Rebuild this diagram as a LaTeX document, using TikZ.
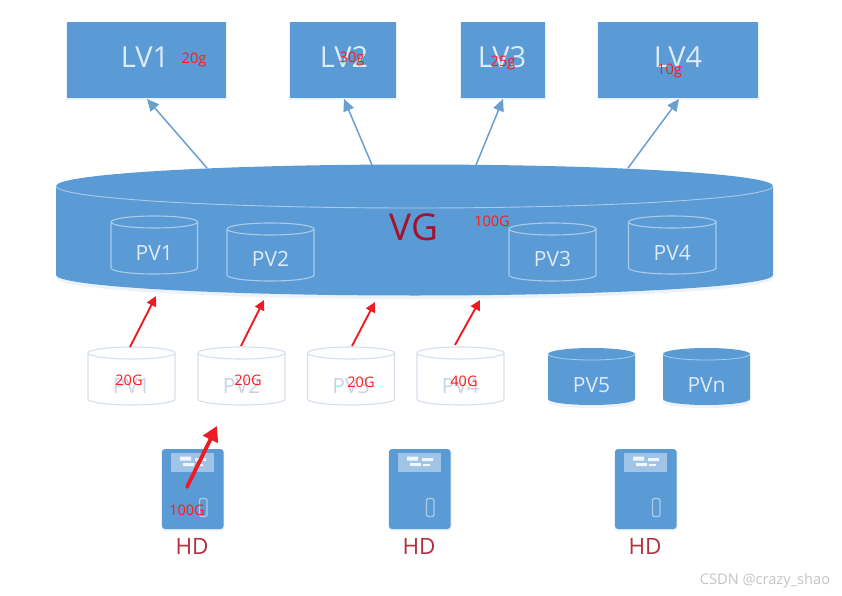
\documentclass[tikz,border=0pt]{standalone}
\usepackage{fontspec}
\setmainfont{Open Sans}
\definecolor{lvm}{HTML}{5B9BD5}
\definecolor{lvmedge}{HTML}{6A9FCF}
\definecolor{rimc}{HTML}{A9CBE8}
\definecolor{softc}{HTML}{DCEBF7}
\definecolor{ghost}{HTML}{D6DFEC}
\definecolor{ghosttxt}{HTML}{C8D3E4}
\definecolor{hdred}{HTML}{B0323E}
\definecolor{vgred}{HTML}{A3132B}
\definecolor{redmark}{HTML}{ED1C24}
\definecolor{markc}{HTML}{FF1A1A}
\definecolor{wm}{HTML}{C4C4C4}
\usetikzlibrary{arrows.meta}
\tikzset{
  x=1pt,y=-1pt,
  lvbox/.style={fill=lvm,inner sep=0pt,font=\fontsize{29}{29}\selectfont,text=softc},
  pvlabel/.style={inner sep=0pt,font=\fontsize{21}{21}\selectfont},
  redlabel/.style={inner sep=0pt,text=markc,font=\fontsize{14.5}{14.5}\selectfont},
  hdlabel/.style={inner sep=0pt,text=hdred,font=\fontsize{22.5}{22.5}\selectfont},
  bluearrow/.style={draw=lvmedge,line width=1.5pt,-{Triangle[length=12pt,width=11pt]}},
  redarrow/.style={draw=redmark,line width=1.9pt,-{Triangle[length=10pt,width=10pt]}},
  bigredarrow/.style={draw=redmark,line width=3.8pt,line cap=round,-{Triangle[length=15pt,width=16pt]}},
  softshadow/.style={fill=lvm,opacity=0.12},
}
% #1 name, #2 left, #3 right, #4 top, #5 bottom, #6 text, #7 line colour, #8 text colour, #9 text y
\newcommand{\outlinecyl}[9]{%
  \pgfmathsetmacro{\cx}{(#2+#3)/2}
  \pgfmathsetmacro{\rx}{(#3-#2)/2}
  \draw[draw=#7,line width=1.1pt] (#2,#4+6) arc[start angle=180,end angle=-180,x radius=\rx,y radius=-6]
     (#2,#4+6) -- (#2,#5-6) arc[start angle=180,end angle=360,x radius=\rx,y radius=-6] -- (#3,#4+6);
  \node[pvlabel,text=#8] (#1) at (\cx,#9) {#6};
}
\newcommand{\solidcyl}[6]{%
  \pgfmathsetmacro{\cx}{(#2+#3)/2}
  \pgfmathsetmacro{\rx}{(#3-#2)/2}
  \fill[softshadow] (#2,#4+6) -- (#2,#5-3) arc[start angle=180,end angle=360,x radius=\rx,y radius=-6] -- (#3,#4+6) -- cycle;
  \fill[lvm] (#2,#4+6) arc[start angle=180,end angle=0,x radius=\rx,y radius=-6] -- (#3,#5-6) arc[start angle=360,end angle=180,x radius=\rx,y radius=-6] -- cycle;
  \draw[draw=rimc,line width=0.8pt] (#2,#4+6) arc[start angle=180,end angle=360,x radius=\rx,y radius=-6];
  \node[pvlabel,text=softc] (#1) at (\cx,#6) {#1};
}
% #1 name, #2 left
\newcommand{\hdunit}[2]{%
  \fill[softshadow,rounded corners=3pt] (#2-1,450) rectangle (#2+62.5,531);
  \fill[lvm,rounded corners=3pt] (#2,449) rectangle (#2+61.5,529);
  \fill[white,opacity=0.42] (#2+9,453) rectangle (#2+52,472);
  \fill[white,opacity=0.85] (#2+18,456.5) rectangle (#2+29,460.5) (#2+21,463) rectangle (#2+32,466) (#2+33,458) rectangle (#2+44,461) (#2+34,464) rectangle (#2+41,466);
  \draw[draw=rimc,line width=1.2pt,rounded corners=1.5pt] (#2+37.5,498.5) rectangle (#2+45,516.5);
  \node[hdlabel] (#1) at (#2+30,546) {HD};
}
\begin{document}
\begin{tikzpicture}
\useasboundingbox (0,0) rectangle (842,596);
\fill[white] (0,0) rectangle (842,596);

% LV boxes
\foreach \a/\b in {66.5/225.5,290/396,461/545,598/758}{
  \fill[softshadow] (\a-1,23) rectangle (\b+1,100.5);
}
\node[lvbox,minimum width=159pt,minimum height=76.5pt] (lva) at (146,60.25) {};
\node[lvbox,minimum width=106pt,minimum height=76.5pt] (lvb) at (343,60.25) {};
\node[lvbox,minimum width=84pt,minimum height=76.5pt] (lvc) at (503,60.25) {};
\node[lvbox,minimum width=160pt,minimum height=76.5pt] (lvd) at (678,60.25) {};
\node[lvbox] (lvat) at (145,57) {LV1};
\node[lvbox] (lvbt) at (344,57) {LV2};
\node[lvbox] (lvct) at (502,57) {LV3};
\node[lvbox] (lvdt) at (678,57) {LV4};

% VG drum
\fill[softshadow] (56,190) -- (56,278) arc[start angle=180,end angle=360,x radius=358.5,y radius=-21] -- (773,190) -- cycle;
\fill[lvm] (56,186) arc[start angle=180,end angle=0,x radius=358.5,y radius=-21.5]
   -- (773,275) arc[start angle=360,end angle=180,x radius=358.5,y radius=-20.5] -- cycle;
\draw[draw=rimc,line width=0.9pt] (56,186) arc[start angle=180,end angle=360,x radius=358.5,y radius=-22];
\node[inner sep=0pt,text=vgred,font=\fontsize{37}{37}\selectfont] (vg) at (414,227) {VG};

% PVs inside the VG
\outlinecyl{vpa}{111}{197.5}{216}{274}{PV1}{rimc}{softc}{253}
\outlinecyl{vpb}{227}{314}{223}{281}{PV2}{rimc}{softc}{259}
\outlinecyl{vpc}{509}{596}{223}{281}{PV3}{rimc}{softc}{259}
\outlinecyl{vpd}{628.5}{716}{216}{274}{PV4}{rimc}{softc}{253}

% Free PVs
\outlinecyl{pa}{88}{175}{347}{405}{PV1}{ghost}{ghosttxt}{386}
\outlinecyl{pb}{198}{285}{347}{405}{PV2}{ghost}{ghosttxt}{386}
\outlinecyl{pc}{307.5}{394.5}{347}{405}{PV3}{ghost}{ghosttxt}{386}
\outlinecyl{pd}{417}{504}{347}{405}{PV4}{ghost}{ghosttxt}{386}
\solidcyl{PV5}{548}{635}{348}{405}{385}
\solidcyl{PVn}{663}{750}{348}{405}{385}

% Disks
\hdunit{hda}{162}
\hdunit{hdb}{389}
\hdunit{hdc}{615}

% Blue arrows: VG rim to LV boxes
\coordinate (va) at (207,168);
\coordinate (vb) at (372,165);
\coordinate (vc) at (476,165);
\coordinate (vd) at (628,168);
\coordinate (la) at (147,99);
\coordinate (lb) at (344,99);
\coordinate (lc) at (503,99);
\coordinate (ld) at (679,99);
\draw[bluearrow] (va) -- (la);
\draw[bluearrow] (vb) -- (lb);
\draw[bluearrow] (vc) -- (lc);
\draw[bluearrow] (vd) -- (ld);

% Red arrows: PVs to VG
\coordinate (ra) at (130,347);
\coordinate (rb) at (241,346);
\coordinate (rc) at (352,346);
\coordinate (rd) at (455,345);
\coordinate (ta) at (156,296);
\coordinate (tb) at (264,300);
\coordinate (tc) at (375,302);
\coordinate (td) at (480,300);
\draw[redarrow] (ra) -- (ta);
\draw[redarrow] (rb) -- (tb);
\draw[redarrow] (rc) -- (tc);
\draw[redarrow] (rd) -- (td);
\coordinate (hs) at (187,487);
\coordinate (ht) at (217,426);
\draw[bigredarrow] (hs) -- (ht);

% Red capacity labels
\node[redlabel] (sa) at (194,60) {20g};
\node[redlabel] (sb) at (352,59) {30g};
\node[redlabel] (sc) at (503,63) {25g};
\node[redlabel] (sd) at (669.5,71) {10g};
\node[redlabel] (sv) at (492,221) {100G};
\node[redlabel] (ga) at (129,380) {20G};
\node[redlabel] (gb) at (248,380) {20G};
\node[redlabel] (gc) at (361,382) {20G};
\node[redlabel] (gd) at (464,381) {40G};
\node[redlabel] (gh) at (187,510) {100G};

% Watermark
\node[inner sep=0pt,text=wm,font=\fontsize{14.6}{14.6}\selectfont] (wmk) at (765,581) {CSDN @crazy\_shao};
\end{tikzpicture}
\end{document}
